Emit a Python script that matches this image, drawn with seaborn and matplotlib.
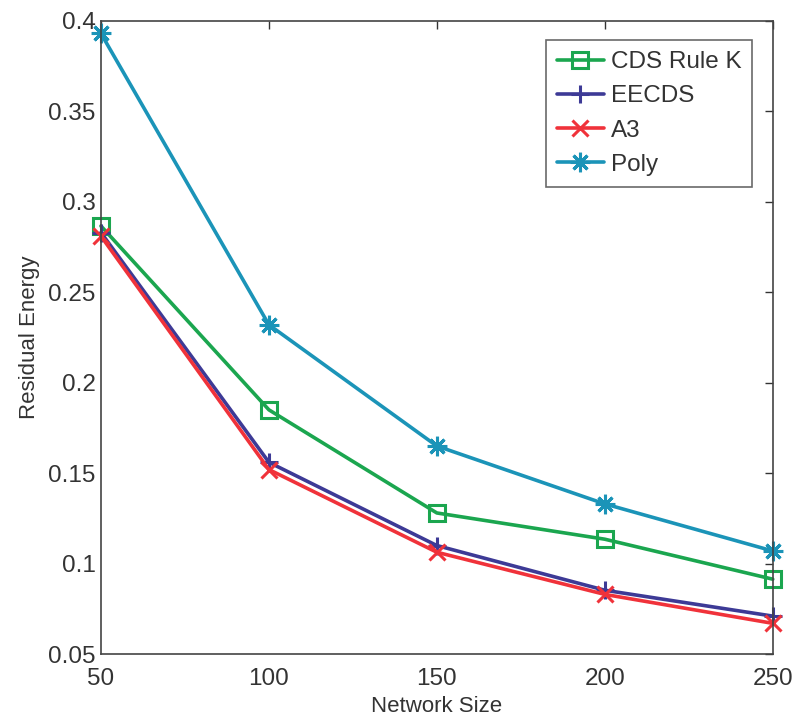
import matplotlib
matplotlib.use("Agg")
import matplotlib.pyplot as plt
import seaborn as sns
import pandas as pd

network_size = [50, 100, 150, 200, 250]
cds_rule_k = [0.2866, 0.185, 0.128, 0.1135, 0.0914]
eecds = [0.283, 0.156, 0.110, 0.0853, 0.071]
a3 = [0.281, 0.152, 0.1063, 0.083, 0.067]
poly = [0.393, 0.232, 0.165, 0.133, 0.107]

series_names = ["CDS Rule K", "EECDS", "A3", "Poly"]
series_vals = [cds_rule_k, eecds, a3, poly]
colors = ["#1ba64f", "#3d3a96", "#f0323a", "#1b94b8"]
markers = ["s", "+", "x", (8, 2, 0)]
msizes = [11, 13, 11, 14]

rows = []
for name, vals in zip(series_names, series_vals):
    for x, y in zip(network_size, vals):
        rows.append({"Network Size": x, "Residual Energy": y, "Series": name})
df = pd.DataFrame(rows)

sns.set_style("white")
plt.rcParams['font.family'] = ['Liberation Sans', 'DejaVu Sans']

fig = plt.figure(figsize=(7.95, 7.18), dpi=100)
ax = fig.add_axes([0.127, 0.089, 0.845, 0.882])

for name, c, m, ms in zip(series_names, colors, markers, msizes):
    sub = df[df["Series"] == name]
    face = "none" if m == "s" else c
    sns.lineplot(data=sub, x="Network Size", y="Residual Energy", ax=ax,
                 color=c, marker=m, markersize=ms,
                 markeredgewidth=2.2, markerfacecolor=face, markeredgecolor=c,
                 linewidth=2.6, label=name, clip_on=False)

ax.set_xlim(50, 250)
ax.set_ylim(0.05, 0.4)
ax.set_xticks([50, 100, 150, 200, 250])
ax.set_yticks([0.05, 0.1, 0.15, 0.2, 0.25, 0.3, 0.35, 0.4])
ax.set_yticklabels(["0.05", "0.1", "0.15", "0.2", "0.25", "0.3", "0.35", "0.4"])
ax.tick_params(direction="in", top=True, right=True, length=6, width=1,
               labelsize=17.5, colors="#333333")
ax.tick_params(axis="x", pad=10)
ax.tick_params(axis="y", pad=4)
for s in ax.spines.values():
    s.set_color("#444444")
    s.set_linewidth(1.2)
ax.set_xlabel("Network Size", fontsize=16, color="#333333", labelpad=4)
ax.set_ylabel("Residual Energy", fontsize=16, color="#333333", labelpad=6)

leg = ax.legend(loc="upper right", bbox_to_anchor=(0.977, 0.977), fontsize=17.5,
                frameon=True, fancybox=False, edgecolor="#444444",
                handlelength=1.9, handletextpad=0.3, borderpad=0.45,
                labelspacing=0.5, borderaxespad=0.2)
leg.get_frame().set_linewidth(1.2)
for t in leg.get_texts():
    t.set_color("#333333")

fig.savefig("out.png", dpi=100)
